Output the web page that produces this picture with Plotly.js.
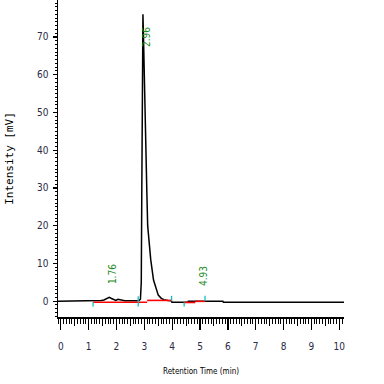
<!DOCTYPE html>
<html>
<head>
<meta charset="utf-8">
<script src="https://cdn.plot.ly/plotly-3.0.1.min.js"></script>
<style>html,body{margin:0;padding:0;background:#fff;}#chart{width:384px;height:384px;}</style>
</head>
<body>
<div id="chart"></div>
<script>
// Chromatogram signal (Retention time in min, intensity in mV)
const retentionTime = [-0.1, 0.5, 1.0, 1.16, 1.3, 1.45, 1.55, 1.65, 1.74, 1.82, 1.9, 1.98, 2.05, 2.15, 2.3, 2.5, 2.7, 2.8, 2.86, 2.89, 2.91, 2.92, 2.93, 2.95, 2.97, 2.99, 3.02, 3.06, 3.09, 3.12, 3.16, 3.23, 3.33, 3.43, 3.5, 3.6, 3.7, 3.85, 3.97, 3.99, 4.4, 4.56, 4.58, 5.5, 5.82, 5.84, 7.0, 8.5, 10.17];
const intensity =     [0, 0, 0, 0, 0.1, 0.2, 0.3, 0.6, 1.0, 0.7, 0.4, 0.2, 0.5, 0.3, 0.1, 0.1, 0.1, 0.1, 0.5, 5, 30, 55, 72, 76, 70, 62, 48, 37, 29, 20, 16, 11, 5.6, 3, 1.6, 0.8, 0.4, 0.2, 0.1, -0.3, -0.3, -0.3, 0.0, 0.0, 0.0, -0.3, -0.3, -0.3, -0.3];

// Integration baselines (red)
const baselineTime = [1.16, 3.10, null, 3.10, 3.98, null, 4.43, 4.83, null, 4.83, 5.18];
const baselineValue = [-0.3, -0.3, null, 0.2, 0.2, null, -0.35, -0.35, null, -0.05, -0.05];

// Peak start/end markers (cyan)
const markerTime = [1.16, 1.16, null, 2.78, 2.78, null, 3.98, 3.98, null, 4.43, 4.43, null, 5.18, 5.18];
const markerValue = [-0.3, -1.4, null, 1.3, -1.4, null, 0, 1.4, null, -0.3, -1.4, null, 0.1, 1.4];

// Peak labels
const peakLabels = ["1.76", "2.96", "4.93"];
const peakLabelTime = [1.88, 3.10, 5.10];
const peakLabelValue = [7.2, 70, 6.6];

const tickFont = {family: "DejaVu Sans Condensed, Liberation Sans Narrow, sans-serif", size: 10, color: "#2a2a44"};

const traces = [
  {x: retentionTime, y: intensity, type: "scatter", mode: "lines", line: {color: "#000", width: 1.5}, hoverinfo: "skip"},
  {x: baselineTime, y: baselineValue, type: "scatter", mode: "lines", line: {color: "#ff0000", width: 1.6}, hoverinfo: "skip"},
  {x: markerTime, y: markerValue, type: "scatter", mode: "lines", line: {color: "#10c0c8", width: 1.3}, hoverinfo: "skip"},
  {x: [0, 10], y: [0, 0], xaxis: "x2", type: "scatter", mode: "lines", line: {width: 0}, opacity: 0, hoverinfo: "skip"}
];

const annotations = peakLabels.map((t, i) => ({
  x: peakLabelTime[i], y: peakLabelValue[i], text: t, showarrow: false, textangle: -90,
  font: {family: "DejaVu Sans Condensed, sans-serif", size: 10, color: "#1a8a1a"}
}));

const layout = {
  width: 384, height: 384,
  margin: {l: 58, r: 40, t: 0, b: 67},
  paper_bgcolor: "#fff", plot_bgcolor: "#fff",
  showlegend: false,
  xaxis: {
    range: [-0.1, 10.17], dtick: 1, tick0: 0, ticks: "outside", ticklen: 11, tickwidth: 1.3, tickcolor: "#000",
    showline: true, linecolor: "#000", linewidth: 1.5, showgrid: false, zeroline: false,
    tickfont: tickFont, ticklabelstandoff: 8,
    minor: {dtick: 0.1, tick0: 0, ticks: "outside", ticklen: 5, tickwidth: 1, tickcolor: "#000", showgrid: false},
    title: {text: "Retention Time (min)", standoff: 18, font: {family: "DejaVu Sans Condensed, sans-serif", size: 8, color: "#000"}}
  },
  xaxis2: {
    overlaying: "x", anchor: "y", side: "bottom", range: [-0.1, 10.17], dtick: 0.5, tick0: 0,
    ticks: "outside", ticklen: 8, tickwidth: 1, tickcolor: "#000", showticklabels: false,
    showline: false, showgrid: false, zeroline: false
  },
  yaxis: {
    range: [-4.2, 79.8], dtick: 10, tick0: 0, ticks: "outside", ticklen: 4, tickwidth: 1.3, tickcolor: "#000",
    showline: true, linecolor: "#000", linewidth: 1.5, showgrid: false, zeroline: false,
    tickfont: tickFont, ticklabelstandoff: 2,
    minor: {dtick: 1, tick0: 0, ticks: "outside", ticklen: 2, tickwidth: 1, tickcolor: "#000", showgrid: false},
    title: {text: "Intensity [mV]", standoff: 21, font: {family: "DejaVu Sans Mono, monospace", size: 11, color: "#000"}}
  },
  annotations: annotations
};

Plotly.newPlot("chart", traces, layout, {staticPlot: true, displayModeBar: false});
</script>
</body>
</html>
